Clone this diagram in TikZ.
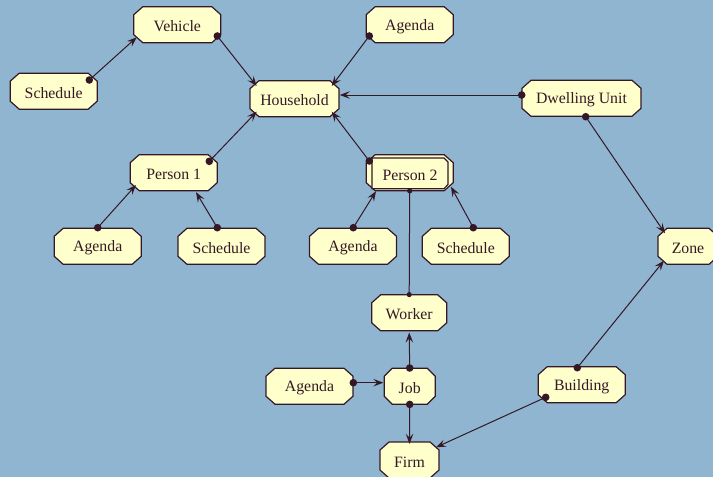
\documentclass[tikz,border=0pt]{standalone}
\usepackage{fontspec}
\setmainfont{Liberation Serif}
\usetikzlibrary{arrows.meta,calc}
\definecolor{bgblue}{RGB}{143,181,208}
\definecolor{boxfill}{RGB}{255,255,204}
\definecolor{ink}{RGB}{52,24,38}
\tikzset{
  boxline/.style={draw=ink, line width=1.2pt, fill=boxfill, line join=miter},
  entitytext/.style={rectangle, inner sep=0pt, minimum height=36pt,
    text=ink, font=\fontsize{15.8}{18}\selectfont},
  link/.style={draw=ink, line width=1pt,
    -{Stealth[length=10pt,width=7.5pt,inset=4pt]}},
  plain/.style={draw=ink, line width=1pt},
}
% octagonal entity box: #1 chamfer, #2 name, #3 centre, #4 width, #5 label
\newcommand{\octbox}[5][9]{%
  \begin{scope}[shift={#3}]
    \filldraw[boxline] (-#4/2+#1,-18) -- (#4/2-#1,-18) -- (#4/2,-10)
      -- (#4/2,10) -- (#4/2-#1,18) -- (-#4/2+#1,18) -- (-#4/2,10)
      -- (-#4/2,-10) -- cycle;
  \end{scope}
  \node[entitytext, minimum width=#4pt] (#2) at #3 {};
  \node[text=ink, inner sep=0pt, font=\fontsize{15.8}{18}\selectfont]
    (#2-label) at ($#3+(0,1.8)$) {#5};}
\newcommand{\knob}[2][3.8pt]{\fill[ink] (#2) circle (#1);}
\begin{document}
\begin{tikzpicture}[x=1pt,y=-1pt]
\useasboundingbox (0,0) rectangle (713,477);
\fill[bgblue] (0,0) rectangle (713,477);

% entities
\octbox{sched0}{(53.7,91.2)}{87}{Schedule}
\octbox{vehicle}{(177.3,24.7)}{87}{Vehicle}
\octbox{agenda0}{(409.7,24.7)}{87}{Agenda}
\octbox{house}{(294.5,98.7)}{89}{Household}
\octbox{dwell}{(581.5,98.3)}{119}{Dwelling Unit}
\octbox{p1}{(173.7,172.7)}{87}{Person 1}
\octbox{p2}{(409.7,172.7)}{87}{}
\octbox{ag1}{(97.7,246.3)}{87}{Agenda}
\octbox{sc1}{(221.5,246.3)}{87}{Schedule}
\octbox{ag2}{(353,246.3)}{87}{Agenda}
\octbox{sc2}{(465.8,246.3)}{87}{Schedule}
\octbox{zone}{(688,246.3)}{60}{Zone}
\octbox{worker}{(409.2,312.8)}{75}{Worker}
\octbox{ag3}{(309.5,386.2)}{87}{Agenda}
\octbox[8]{job}{(409.7,386.2)}{51}{Job}
\octbox{building}{(581.7,384.7)}{87}{Building}
\octbox{firm}{(409.5,460)}{59}{Firm}

% Person 2 is a multi-object: an inner box stacked on the outer one
\filldraw[boxline] (372,158) -- (444,158) -- (448,162) -- (448,184.5)
  -- (444,188.7) -- (372,188.7) -- cycle;
\node[text=ink, inner sep=0pt, font=\fontsize{15.8}{18}\selectfont]
  (p2text) at (410,175) {Person 2};

% associations
\draw[link] ($(sched0)+(35.6,-11.2)$) -- ($(vehicle)+(-40.6,12.6)$);
\knob{$(sched0)+(35.6,-11.2)$}
\draw[link] ($(vehicle)+(40,11.3)$) -- ($(house)+(-37.8,-12.7)$);
\knob{$(vehicle)+(40,11.3)$}
\draw[link] ($(agenda0)+(-40.4,11.3)$) -- ($(house)+(37.2,-12.7)$);
\knob{$(agenda0)+(-40.4,11.3)$}
\draw[link] ($(dwell)+(-59.8,-3.3)$) -- ($(house)+(45.3,-3.7)$);
\knob{$(dwell)+(-59.8,-3.3)$}
\draw[link] ($(p1)+(35.6,-11.4)$) -- ($(house)+(-37.8,13)$);
\knob{$(p1)+(35.6,-11.4)$}
\draw[link] ($(p2)+(-40.4,-11.7)$) -- ($(house)+(37.2,13)$);
\knob{$(p2)+(-40.4,-11.7)$}
\draw[link] ($(dwell)+(4.2,18.4)$) -- ($(zone)+(-23,-13)$);
\knob{$(dwell)+(4.2,18.4)$}
\draw[link] ($(ag1)+(0,-18.6)$) -- ($(p1)+(-37.7,12.3)$);
\knob{$(ag1)+(0,-18.6)$}
\draw[link] ($(sc1)+(-4.2,-18.6)$) -- ($(p1)+(22.3,19.5)$);
\knob{$(sc1)+(-4.2,-18.6)$}
\draw[link] ($(ag2)+(0.3,-18.6)$) -- ($(p2)+(-33.7,18.5)$);
\knob{$(ag2)+(0.3,-18.6)$}
\draw[link] ($(sc2)+(7.5,-18.6)$) -- ($(p2)+(41.3,14)$);
\knob{$(sc2)+(7.5,-18.6)$}
\draw[plain] (p2.south) -- (worker.north);
\knob[2.6pt]{p2.south}
\knob[2.6pt]{worker.north}
\draw[link] (job.north) -- ($(worker.south)+(0,1.5)$);
\knob{job.north}
\draw[link] ($(ag3)+(43.8,-3.5)$) -- ($(job)+(-26.4,-3.5)$);
\knob{$(ag3)+(43.8,-3.5)$}
\draw[link] (job.south) -- ($(firm.north)+(0,2)$);
\knob{job.south}
\draw[link] ($(building)+(-36,12.6)$) -- ($(firm)+(26.5,-12.7)$);
\knob{$(building)+(-36,12.6)$}
\draw[link] ($(building)+(-4.4,-17)$) -- ($(zone)+(-24,14.4)$);
\knob{$(building)+(-4.4,-17)$}
\end{tikzpicture}
\end{document}
